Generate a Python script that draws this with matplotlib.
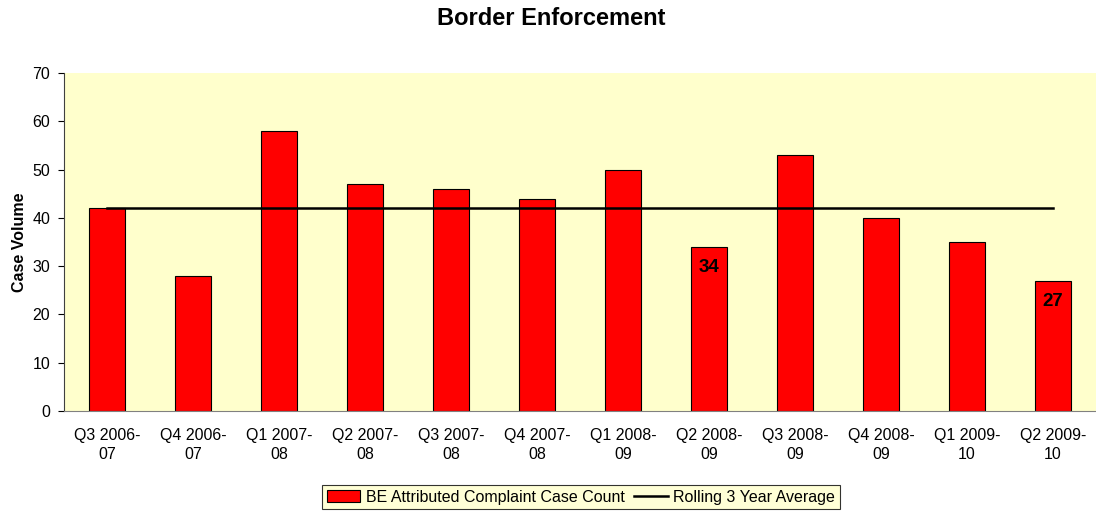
import matplotlib
matplotlib.use("Agg")
import matplotlib.pyplot as plt
import numpy as np

plt.rcParams['font.family'] = ['Liberation Sans', 'DejaVu Sans']

categories = ["Q3 2006-\n07", "Q4 2006-\n07", "Q1 2007-\n08", "Q2 2007-\n08", "Q3 2007-\n08",
              "Q4 2007-\n08", "Q1 2008-\n09", "Q2 2008-\n09", "Q3 2008-\n09", "Q4 2008-\n09",
              "Q1 2009-\n10", "Q2 2009-\n10"]
case_counts = [42, 28, 58, 47, 46, 44, 50, 34, 53, 40, 35, 27]
rolling_avg = [42] * 12
labelled = {7: 34, 11: 27}

fig = plt.figure(figsize=(10.96, 5.11), dpi=100)
ax = fig.add_axes([64/1096, 100/511, 1 - 64/1096, 338/511])
bg = '#FFFFCC'
ax.set_facecolor(bg)

x = np.arange(len(categories))
bars = ax.bar(x, case_counts, width=0.41, color='#FF0000', edgecolor='black', linewidth=0.8,
              label='BE Attributed Complaint Case Count', zorder=2)
line, = ax.plot(x, rolling_avg, color='black', linewidth=1.8, label='Rolling 3 Year Average', zorder=3)

for i, v in labelled.items():
    ax.text(x[i], v - 4.3, str(v), ha='center', va='center', fontsize=13.5, fontweight='bold', zorder=4)

ax.set_xlim(-0.5, len(categories) - 0.5)
ax.set_ylim(0, 70)
ax.set_yticks(range(0, 71, 10))
ax.set_xticks(x)
ax.set_xticklabels(categories, fontsize=11.5, linespacing=1.35)
ax.tick_params(axis='x', length=0, pad=12)
ax.tick_params(axis='y', labelsize=11.5, length=4, direction='out', pad=6)
for s in ['top', 'right']:
    ax.spines[s].set_visible(False)
ax.spines['left'].set_color('#404040')
ax.spines['bottom'].set_color('#808080')
ax.set_ylabel('Case Volume', fontsize=11.5, fontweight='bold', labelpad=4)

fig.text(551 / 1096, 1 - 18.5/511, 'Border Enforcement', ha='center', va='center',
         fontsize=17, fontweight='bold')

leg = fig.legend([bars, line], [bars.get_label(), line.get_label()], loc='center',
                 bbox_to_anchor=(581/1096, 1 - 497/511), bbox_transform=fig.transFigure,
                 ncol=2, frameon=True, fontsize=11.5, fancybox=False, borderpad=0.3,
                 columnspacing=0.6, handlelength=2.1, handletextpad=0.35, borderaxespad=0)
leg.get_frame().set_edgecolor('black')
leg.get_frame().set_facecolor(bg)
leg.get_frame().set_linewidth(0.8)

fig.savefig('out.png', dpi=100)
